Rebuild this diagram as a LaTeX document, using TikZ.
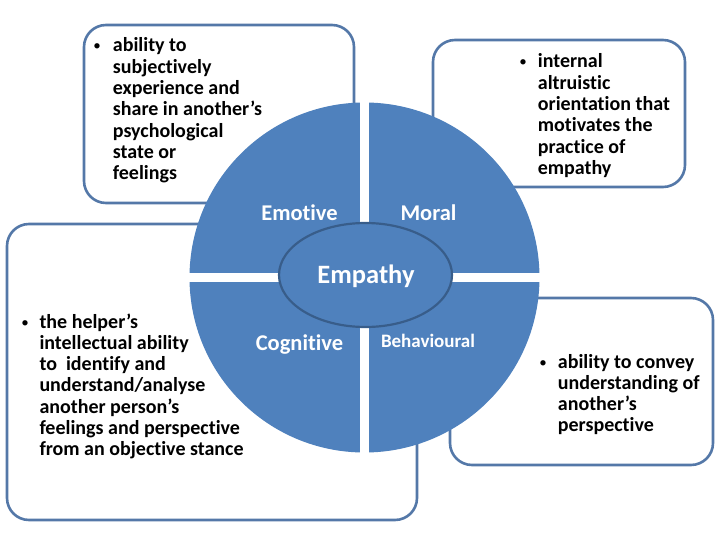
\documentclass[tikz,border=0pt]{standalone}
\usepackage{fontspec}
\setmainfont{Carlito}[Ligatures=NoCommon]
\usetikzlibrary{shapes.geometric}
\definecolor{quad}{HTML}{4F81BD}
\definecolor{ellborder}{HTML}{385D8A}
\definecolor{boxborder}{HTML}{5478A8}
\begin{document}
\begin{tikzpicture}[x=1pt,y=-1pt,
  infobox/.style={draw=boxborder, line width=2.6pt, fill=white, rounded corners=22pt, inner sep=0pt},
  bodytext/.style={anchor=base west, inner sep=0pt, font=\bfseries, text=black},
  bulletmark/.style={anchor=base, inner sep=0pt, font=\fontsize{15}{18}\selectfont, text=black},
  quadlabel/.style={anchor=base, inner sep=0pt, text=white, font=\bfseries\fontsize{22.5}{26}\selectfont}]
\useasboundingbox (0,0) rectangle (720,540);
% boxes
\node[infobox, minimum width=270pt, minimum height=178pt] (b1) at (219,114) {};
\node[infobox, minimum width=252pt, minimum height=147pt] (b2) at (559,113.5) {};
\node[infobox, minimum width=410pt, minimum height=296pt] (b3) at (212,372) {};
\node[infobox, minimum width=263pt, minimum height=167pt] (b4) at (581.5,381.5) {};
% box texts
\node[bulletmark] (u1) at (97,51) {•};
\node[bodytext] (t1) at (112.7,52) {\parbox[t]{240pt}{\raggedright\fontsize{20}{21.3}\selectfont ability to\\ subjectively\\ experience and\\ share in another’s\\ psychological\\ state or\\ feelings}};
\node[bulletmark] (u2) at (523,67) {•};
\node[bodytext] (t2) at (537.7,68) {\parbox[t]{150pt}{\raggedright\fontsize{20}{21.3}\selectfont internal\\ altruistic\\ orientation that\\ motivates the\\ practice of\\ empathy}};
\node[bulletmark] (u3) at (25,327) {•};
\node[bodytext] (t3) at (39.3,328) {\parbox[t]{240pt}{\raggedright\fontsize{20}{21.3}\selectfont the helper’s\\ intellectual ability\\ to\ \ identify and\\ understand/analyse\\ another person’s\\ feelings and perspective\\ from an objective stance}};
\node[bulletmark] (u4) at (543,367) {•};
\node[bodytext] (t4) at (557.7,368) {\parbox[t]{160pt}{\raggedright\fontsize{20}{21.3}\selectfont ability to convey\\ understanding of\\ another’s\\ perspective}};
% quadrants
\begin{scope}
  \clip (364.5,277.5) circle [radius=175pt];
  \fill[quad] (185,98) rectangle (360,273);
  \fill[quad] (369,98) rectangle (545,273);
  \fill[quad] (185,282) rectangle (360,458);
  \fill[quad] (369,282) rectangle (545,458);
\end{scope}
\node[ellipse, draw=ellborder, line width=2.2pt, fill=quad, minimum width=173pt, minimum height=104pt, inner sep=0pt] (core) at (365.5,275) {};
% labels
\node[quadlabel] (emo) at (299.5,221) {Emotive};
\node[quadlabel] (mor) at (428.5,221) {Moral};
\node[quadlabel, font=\bfseries\fontsize{26.5}{30}\selectfont] (emp) at (366,283) {Empathy};
\node[quadlabel] (cog) at (299.5,350) {Cognitive};
\node[quadlabel, font=\bfseries\fontsize{19}{22}\selectfont] (beh) at (428,347) {Behavioural};
\end{tikzpicture}
\end{document}
